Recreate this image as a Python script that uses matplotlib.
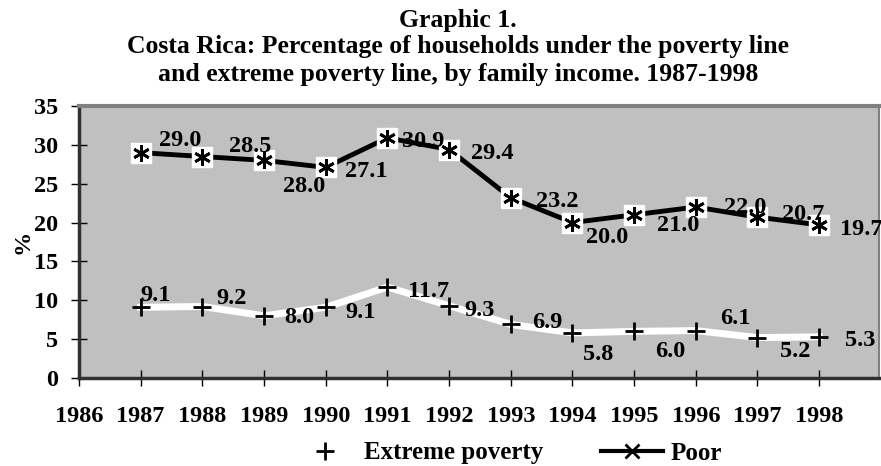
import matplotlib.pyplot as plt
from matplotlib.lines import Line2D

# Data
years = ['1986', '1987', '1988', '1989', '1990', '1991', '1992',
         '1993', '1994', '1995', '1996', '1997', '1998']
data_years = [1987, 1988, 1989, 1990, 1991, 1992, 1993, 1994, 1995, 1996, 1997, 1998]
poor = [29.0, 28.5, 28.0, 27.1, 30.9, 29.4, 23.2, 20.0, 21.0, 22.0, 20.7, 19.7]
extreme = [9.1, 9.2, 8.0, 9.1, 11.7, 9.3, 6.9, 5.8, 6.0, 6.1, 5.2, 5.3]

# label offsets (pixels, right / up) as placed in the reference
poor_off = [(40, 12), (48, 10), (40, -26), (41, -4), (36, -4), (43, -4),
            (46, -4), (35, -15), (44, -11), (49, 0), (46, 3), (42, -5)]
ext_off = [(15, 12), (29, 8), (35, -2), (35, -5), (41, -4), (30, -5),
           (37, 2), (26, -22), (36, -20), (40, 12), (38, -14), (41, -4)]

plt.rcParams['font.family'] = ['Liberation Serif', 'DejaVu Serif']
plt.rcParams['font.weight'] = 'bold'

fig = plt.figure(figsize=(8.81, 4.66), dpi=100)
ax = fig.add_axes([79 / 881, 1 - 378 / 466, 800 / 881, 272 / 466])
ax.set_facecolor('#c0c0c0')

x = [y - 1986 for y in data_years]

# Extreme poverty: white line, black plus markers
ax.plot(x, extreme, color='white', lw=5, zorder=2)
ax.plot(x, extreme, ls='none', marker='+', ms=13, mew=2, color='black', zorder=3)

# Poor: black line, white boxes with asterisk
ax.plot(x, poor, color='black', lw=3.5, zorder=2)
ax.plot(x, poor, ls='none', marker='s', ms=15, mfc='white', mec='white', zorder=3)
ax.plot(x, poor, ls='none', marker=(6, 2, 0), ms=12, mew=2, color='black', zorder=4)

for xi, v, (dx, dy) in zip(x, poor, poor_off):
    ax.annotate(f'{v:.1f}', (xi, v), xytext=(dx, dy), textcoords='offset pixels',
                ha='center', va='center', fontsize=17.5, fontweight='bold', zorder=5,
                annotation_clip=False)
for xi, v, (dx, dy) in zip(x, extreme, ext_off):
    ax.annotate(f'{v:.1f}', (xi, v), xytext=(dx, dy), textcoords='offset pixels',
                ha='center', va='center', fontsize=17.5, fontweight='bold', zorder=5,
                annotation_clip=False)

ax.set_xlim(0, 12.97)
ax.set_ylim(0, 35)
ax.set_xticks(range(len(years)))
ax.set_xticklabels(years)
ax.set_yticks(range(0, 36, 5))
ax.tick_params(axis='both', direction='inout', length=12, width=1, labelsize=17.5)
ax.tick_params(axis='x', pad=14)
ax.tick_params(axis='y', pad=9)
for lab in ax.get_xticklabels() + ax.get_yticklabels():
    lab.set_fontweight('bold')

ax.set_ylabel('%', fontsize=17.5, fontweight='bold', labelpad=0)

ax.spines['top'].set_color('#808080')
ax.spines['top'].set_linewidth(3)
ax.spines['right'].set_color('#808080')
ax.spines['right'].set_linewidth(1.5)
ax.spines['left'].set_color('#303030')
ax.spines['left'].set_linewidth(2.5)
ax.spines['bottom'].set_color('#303030')
ax.spines['bottom'].set_linewidth(2.5)

title_lines = ['Graphic 1.',
               'Costa Rica: Percentage of households under the poverty line',
               'and extreme poverty line, by family income. 1987-1998']
for ty, line in zip([21, 47, 74], title_lines):
    fig.text(0.52, 1 - ty / 466, line, ha='center', va='center',
             fontsize=18.5, fontweight='bold')

handles = [Line2D([], [], color='white', lw=0, marker='+', ms=13, mew=2, mec='black'),
           Line2D([], [], color='black', lw=3, marker='x', ms=10, mew=2, mec='black')]
fig.legend(handles, ['Extreme poverty', 'Poor'], loc='center', ncol=2,
           bbox_to_anchor=(508 / 881, 1 - 453 / 466), frameon=False,
           prop={'size': 18, 'weight': 'bold'}, handlelength=2.5,
           handletextpad=0.3, columnspacing=2.3)

plt.savefig('out.png', dpi=100)
